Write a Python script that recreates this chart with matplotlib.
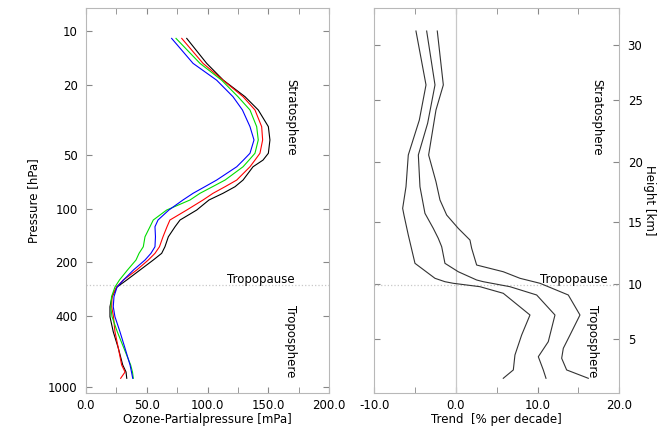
import matplotlib.pyplot as plt
import numpy as np

plt.rcParams['font.family'] = 'DejaVu Sans'
plt.rcParams['font.size'] = 8.5

# ozone soundings: pressure levels [hPa] and partial pressure [mPa]
p_lev = [11, 15.2, 18.9, 23.4, 27.8, 34.5, 41.0, 48.7, 53.2, 58.0, 68.9, 75.1,
         81.8, 89.2, 101.6, 115.6, 126.1, 143.6, 163.4, 178.0, 194.1, 220.9,
         251.4, 275.4, 312.2, 355.3, 404.5, 491.2, 609, 755.7, 827.8, 898]
o3_black = [82.8, 99.2, 112.9, 130.7, 141.6, 149.9, 151.2, 149.9, 145.5, 137.3,
            129.1, 122.5, 112.6, 101.1, 91.0, 77.3, 73.2, 67.7, 64.9, 62.2, 55.3,
            44.4, 33.5, 25.5, 21.4, 19.7, 19.7, 22.4, 26.6, 30.2, 32.9, 33.5]
o3_red = [78.7, 96.2, 112.6, 129.1, 138.9, 144.4, 145.2, 143.0, 138.9, 134.8,
          123.9, 114.3, 104.4, 96.2, 82.8, 69.0, 66.6, 63.3, 60.4, 56.7, 51.2,
          41.7, 30.7, 25.1, 21.4, 21.1, 22.6, 23.8, 26.6, 29.3, 32.1, 28.5]
o3_green = [74.0, 93.7, 111.5, 124.9, 134.8, 140.3, 141.6, 138.9, 134.0, 129.1,
            114.3, 104.0, 93.7, 85.5, 66.3, 55.3, 52.6, 48.5, 47.1, 43.6, 41.1,
            34.1, 27.5, 23.8, 21.0, 20.3, 21.4, 25.7, 31.2, 36.7, 38.2, 38.9]
o3_blue = [70.4, 88.0, 107.4, 120.8, 128.6, 134.8, 138.1, 134.8, 129.4, 123.9,
           107.4, 97.7, 88.0, 79.7, 68.1, 59.2, 56.7, 57.1, 56.7, 53.4, 48.5,
           39.0, 30.8, 25.5, 23.0, 22.4, 23.8, 27.9, 32.1, 36.2, 37.4, 38.4]

# trend profiles [% per decade] at pressure [hPa]
p_low = [10, 20.1, 31.7, 49.8, 75.1, 99.4, 108.4, 140.4, 202.6, 246, 257, 262.4,
         274.2, 298.7, 395.6, 512.7, 664, 806, 898]
t_low = [-4.90, -3.67, -4.49, -5.84, -6.12, -6.53, -6.37, -5.84, -5.02, -2.57,
         -1.35, -0.33, 2.94, 5.79, 9.06, 8.04, 7.22, 7.02, 5.79]
p_mid = [10, 20.1, 33.0, 49.8, 75.1, 106, 128.8, 146.5, 163.4, 202.6, 225.9,
         251.4, 257, 274.2, 305.3, 395.6, 559, 679, 806, 898]
t_mid = [-3.59, -2.57, -3.47, -4.61, -4.41, -3.80, -2.78, -2.17, -1.75, -1.35,
         0.28, 2.53, 3.34, 6.61, 9.88, 12.12, 11.30, 10.08, 10.69, 11.02]
p_up = [10, 20.1, 27.8, 49.8, 70.4, 89.2, 108.4, 128.8, 149.8, 166.8, 207.1,
        225.9, 246, 262.4, 305.3, 395.6, 512.7, 609, 693, 806, 898]
t_up = [-2.29, -1.55, -2.45, -3.35, -2.45, -1.96, -1.14, 0.28, 1.71, 1.92, 2.53,
        5.79, 7.84, 10.29, 13.75, 15.18, 13.96, 13.14, 12.94, 13.55, 16.20]

p_ticks = [10, 20, 50, 100, 200, 400, 1000]
height_km = [5, 10, 15, 20, 25, 30]
height_hpa = [540, 266, 119, 54.3, 24.4, 12.0]
p_tropopause = 268

fig = plt.figure(figsize=(6.59, 4.30), dpi=100)
ax1 = fig.add_axes([0.1305, 0.0853, 0.3692, 0.8961])
ax2 = fig.add_axes([0.568, 0.0853, 0.3718, 0.8961])

spine_c = '#b8b8b8'
tick_c = '#888888'

for ax in (ax1, ax2):
    ax.set_yscale('log')
    ax.set_ylim(1091, 7.42)
    for s in ax.spines.values():
        s.set_color(spine_c)
        s.set_linewidth(0.8)
    ax.tick_params(which='both', direction='in', length=4, color=tick_c,
                   top=True, right=True, pad=6)
    ax.tick_params(axis='x', pad=4)
    ax.axhline(p_tropopause, color='#c8c8c8', ls=':', lw=0.9)

# left panel
ax1.plot(o3_black, p_lev, color='black', lw=0.8)
ax1.plot(o3_red, p_lev, color='#ff0000', lw=0.8)
ax1.plot(o3_green, p_lev, color='#00dd00', lw=0.8)
ax1.plot(o3_blue, p_lev, color='#0000ff', lw=0.8)
ax1.set_xlim(0, 200)
ax1.set_xticks([0, 50, 100, 150, 200])
ax1.set_xticklabels(['%.1f' % v for v in [0, 50, 100, 150, 200]])
ax1.set_xticks(np.arange(25, 200, 50), minor=True)
ax1.set_yticks(p_ticks)
ax1.set_yticklabels([str(v) for v in p_ticks])
ax1.yaxis.set_minor_locator(plt.NullLocator())
ax1.set_xlabel('Ozone-Partialpressure [mPa]', labelpad=1)
ax1.set_ylabel('Pressure [hPa]', labelpad=6)
ax1.text(168.5, 30.7, 'Stratosphere', rotation=-90, ha='center', va='center')
ax1.text(143.6, 250, 'Tropopause', ha='center', va='center')
ax1.text(168.5, 553, 'Troposphere', rotation=-90, ha='center', va='center')

# right panel
ax2.axvline(0, color='#c8c8c8', lw=0.9)
for t, p in [(t_low, p_low), (t_mid, p_mid), (t_up, p_up)]:
    ax2.plot(t, p, color='#333333', lw=0.8)
ax2.set_xlim(-10, 20)
ax2.set_xticks([-10, 0, 10, 20])
ax2.set_xticklabels(['%.1f' % v for v in [-10, 0, 10, 20]])
ax2.set_xticks([-5, 5, 15], minor=True)
ax2.set_yticks(height_hpa)
ax2.set_yticklabels([str(h) for h in height_km])
ax2.yaxis.set_minor_locator(plt.NullLocator())
ax2.tick_params(axis='y', labelleft=False, labelright=True)
ax2.yaxis.set_label_position('right')
ax2.set_ylabel('Height [km]', rotation=270, labelpad=10)
ax2.set_xlabel('Trend  [% per decade]', labelpad=1)
ax2.text(17.2, 30.7, 'Stratosphere', rotation=-90, ha='center', va='center')
ax2.text(14.4, 250, 'Tropopause', ha='center', va='center')
ax2.text(16.7, 557, 'Troposphere', rotation=-90, ha='center', va='center')

fig.savefig('out.png', dpi=100)
